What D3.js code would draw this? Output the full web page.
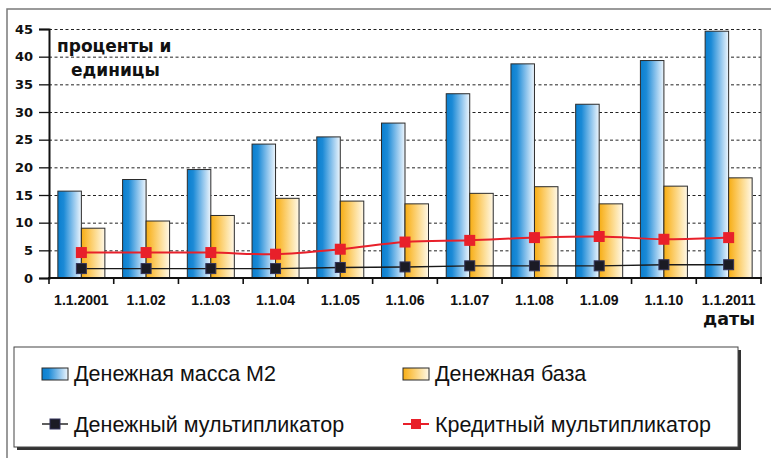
<!DOCTYPE html>
<html>
<head>
<meta charset="utf-8">
<script src="https://cdn.jsdelivr.net/npm/d3@7"></script>
<style>
  body { margin: 0; background: #fff; }
  svg { display: block; }
</style>
</head>
<body>
<div id="chart"></div>
<script>
let w = 771;
let h = 458;

// data
let dates = ["1.1.2001", "1.1.02", "1.1.03", "1.1.04", "1.1.05", "1.1.06", "1.1.07", "1.1.08", "1.1.09", "1.1.10", "1.1.2011"];
let m2 = [15.7, 17.8, 19.6, 24.2, 25.5, 28.0, 33.3, 38.7, 31.4, 39.3, 44.6];
let base = [9.0, 10.3, 11.3, 14.4, 13.9, 13.4, 15.3, 16.5, 13.4, 16.6, 18.1];
let moneyMult = [1.7, 1.7, 1.7, 1.7, 1.9, 2.0, 2.2, 2.2, 2.2, 2.4, 2.4];
let creditMult = [4.6, 4.6, 4.6, 4.3, 5.2, 6.5, 6.8, 7.3, 7.5, 7.0, 7.3];
let yTicks = [0, 5, 10, 15, 20, 25, 30, 35, 40, 45];
let barNames = ["Денежная масса М2", "Денежная база"];
let lineNames = ["Денежный мультипликатор", "Кредитный мультипликатор"];

let plot = {left: 49, right: 761, top: 29, bottom: 278};

let viz = d3.select("#chart")
  .append("svg")
  .attr("width", w)
  .attr("height", h)
;

// gradients for the bars
let defs = viz.append("defs");
function grad(id, stops){
  let g = defs.append("linearGradient").attr("id", id)
    .attr("x1", "0%").attr("x2", "100%").attr("y1", "0%").attr("y2", "0%");
  stops.forEach(s => g.append("stop").attr("offset", s[0]).attr("stop-color", s[1]));
}
grad("blueGrad", [["0%", "#0a7fcf"], ["25%", "#1b8ad6"], ["65%", "#8cc3ec"], ["100%", "#eef6fd"]]);
grad("orangeGrad", [["0%", "#f6ad14"], ["30%", "#fbc450"], ["70%", "#fde3a6"], ["100%", "#fff8e8"]]);

// outer frame (runs off the right and bottom)
viz.append("rect")
  .attr("x", 7).attr("y", 9)
  .attr("width", w + 20).attr("height", h + 20)
  .attr("fill", "none")
  .attr("stroke", "#7a7a7a")
  .attr("stroke-width", 1.5);

// scales
let xScale = d3.scaleBand().domain(dates).range([plot.left, plot.right]);
let xInner = d3.scaleBand().domain([0, 1]).range([0, xScale.bandwidth()]).paddingOuter(0.377);
let yScale = d3.scaleLinear().domain([0, 45]).range([plot.bottom, plot.top]);

// gridlines
let grid = viz.append("g")
  .attr("transform", "translate(" + plot.left + ",0)")
  .call(d3.axisLeft(yScale).tickValues(yTicks.slice(1)).tickSize(-(plot.right - plot.left)).tickFormat(""));
grid.select(".domain").remove();
grid.selectAll("line")
  .attr("stroke", "#222")
  .attr("stroke-width", 1)
  .attr("stroke-dasharray", "3,2.5");

// right border of plot
viz.append("line")
  .attr("x1", plot.right).attr("x2", plot.right)
  .attr("y1", yScale(45)).attr("y2", yScale(0))
  .attr("stroke", "#666").attr("stroke-width", 1.2);

// bars
let barData = dates.map((d, i) => ({date: d, vals: [m2[i], base[i]]}));
let groups = viz.selectAll(".grp").data(barData).enter()
  .append("g")
  .attr("class", "grp")
  .attr("transform", d => "translate(" + xScale(d.date) + ",0)");

groups.selectAll("rect").data(d => d.vals).enter()
  .append("rect")
  .attr("x", (v, j) => xInner(j))
  .attr("y", v => yScale(v))
  .attr("width", xInner.bandwidth())
  .attr("height", v => yScale(0) - yScale(v))
  .attr("fill", (v, j) => j == 0 ? "url(#blueGrad)" : "url(#orangeGrad)")
  .attr("stroke", "#2b2b2b")
  .attr("stroke-width", 1);

// lines
let cx = d => xScale(d) + xScale.bandwidth() / 2;

let blackLine = d3.line()
  .x((v, i) => cx(dates[i]))
  .y(v => yScale(v));
let redLine = d3.line()
  .x((v, i) => cx(dates[i]))
  .y(v => yScale(v))
  .curve(d3.curveCatmullRom.alpha(0.5));

viz.append("path")
  .datum(moneyMult)
  .attr("d", blackLine)
  .attr("fill", "none")
  .attr("stroke", "#1a1a1a")
  .attr("stroke-width", 1.4);

viz.append("path")
  .datum(creditMult)
  .attr("d", redLine)
  .attr("fill", "none")
  .attr("stroke", "#e8202a")
  .attr("stroke-width", 2);

viz.selectAll(".mm").data(moneyMult).enter()
  .append("rect")
  .attr("class", "mm")
  .attr("x", (v, i) => cx(dates[i]) - 5)
  .attr("y", v => yScale(v) - 5)
  .attr("width", 10).attr("height", 10)
  .attr("fill", "#1b1b24")
  .attr("stroke", "#33335a")
  .attr("stroke-width", 1);

viz.selectAll(".cm").data(creditMult).enter()
  .append("rect")
  .attr("class", "cm")
  .attr("x", (v, i) => cx(dates[i]) - 5.5)
  .attr("y", v => yScale(v) - 5.5)
  .attr("width", 11).attr("height", 11)
  .attr("fill", "#e8202a");

// y axis
let yAxisGroup = viz.append("g")
  .attr("transform", "translate(" + plot.left + ",0)")
  .call(d3.axisLeft(yScale).tickValues(yTicks).tickSize(10).tickPadding(6));
yAxisGroup.select(".domain").attr("stroke", "#111").attr("stroke-width", 2);
yAxisGroup.selectAll("line").attr("stroke", "#111").attr("stroke-width", 1.3);
yAxisGroup.selectAll("text")
  .attr("fill", "#111")
  .style("font-family", "'DejaVu Sans', sans-serif")
  .style("font-weight", "bold")
  .style("font-size", "13px");

// x axis
let xAxisGroup = viz.append("g")
  .attr("transform", "translate(0," + plot.bottom + ")")
  .call(d3.axisBottom(xScale).tickSize(0).tickPadding(17));
xAxisGroup.select(".domain").remove();
xAxisGroup.selectAll("text")
  .attr("fill", "#111")
  .style("font-family", "'Liberation Sans', Arial, sans-serif")
  .style("font-weight", "bold")
  .style("font-size", "14px");

viz.append("line")
  .attr("x1", plot.left - 1).attr("x2", plot.right + 1)
  .attr("y1", yScale(0)).attr("y2", yScale(0))
  .attr("stroke", "#111").attr("stroke-width", 2);

// boundary ticks under the baseline
let bounds = dates.map(d => xScale(d)).concat([xScale(dates[dates.length - 1]) + xScale.bandwidth()]);
viz.selectAll(".xtick").data(bounds).enter()
  .append("line")
  .attr("x1", d => d).attr("x2", d => d)
  .attr("y1", yScale(0)).attr("y2", yScale(0) + 6)
  .attr("stroke", "#111").attr("stroke-width", 1.6);

// axis titles
let titleFont = "'DejaVu Sans', sans-serif";
viz.append("text").attr("x", 57).attr("y", 52).text("проценты и")
  .style("font-family", titleFont).style("font-weight", "bold").style("font-size", "17px").attr("fill", "#111");
viz.append("text").attr("x", 71).attr("y", 76).text("единицы")
  .style("font-family", titleFont).style("font-weight", "bold").style("font-size", "17px").attr("fill", "#111");
viz.append("text").attr("x", 755).attr("y", 325).attr("text-anchor", "end").text("даты")
  .style("font-family", titleFont).style("font-weight", "bold").style("font-size", "17.5px").attr("fill", "#111");

// legend
let lg = {x: 14, y: 347, w: 724, h: 100};
viz.append("rect")
  .attr("x", lg.x + 3).attr("y", lg.y + 3).attr("width", lg.w).attr("height", lg.h)
  .attr("fill", "#333");
viz.append("rect")
  .attr("x", lg.x).attr("y", lg.y).attr("width", lg.w).attr("height", lg.h)
  .attr("fill", "#fff").attr("stroke", "#444").attr("stroke-width", 1);

let legendCols = [42, 403];
let legendFont = "'Liberation Sans', Arial, sans-serif";

barNames.forEach((name, i) => {
  viz.append("rect")
    .attr("x", legendCols[i]).attr("y", 368)
    .attr("width", 26).attr("height", 12)
    .attr("fill", i == 0 ? "url(#blueGrad)" : "url(#orangeGrad)")
    .attr("stroke", "#2b2b2b").attr("stroke-width", 1);
  viz.append("text")
    .attr("x", legendCols[i] + 32).attr("y", 381)
    .text(name)
    .style("font-family", legendFont).style("font-size", "21.5px").attr("fill", "#111");
});

lineNames.forEach((name, i) => {
  let c = i == 0 ? "#1a1a1a" : "#e8202a";
  viz.append("line")
    .attr("x1", legendCols[i]).attr("x2", legendCols[i] + 26)
    .attr("y1", 424).attr("y2", 424)
    .attr("stroke", c).attr("stroke-width", i == 0 ? 1.4 : 2);
  viz.append("rect")
    .attr("x", legendCols[i] + 13 - 5).attr("y", 419)
    .attr("width", 10).attr("height", 10)
    .attr("fill", i == 0 ? "#1b1b24" : "#e8202a")
    .attr("stroke", i == 0 ? "#33335a" : "none");
  viz.append("text")
    .attr("x", legendCols[i] + 32).attr("y", 432)
    .text(name)
    .style("font-family", legendFont).style("font-size", "21.5px").attr("fill", "#111");
});
</script>
</body>
</html>
